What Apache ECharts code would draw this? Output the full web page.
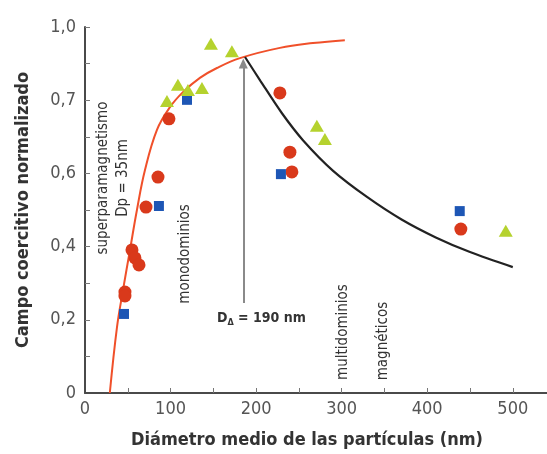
<!DOCTYPE html>
<html>
<head>
<meta charset="utf-8">
<script src="https://cdn.jsdelivr.net/npm/echarts@6/dist/echarts.min.js"></script>
<style>html,body{margin:0;padding:0;background:#fff;}#c{width:547px;height:454px;}</style>
</head>
<body>
<div id="c"></div>
<script>
// ---- data ----
var xTickLabels = [0, 100, 200, 300, 400, 500];
var xMinorTicks = [50, 100, 150, 200, 250, 300, 350, 400, 450, 500];
var yTickValues = [0, 0.2, 0.4, 0.6, 0.8, 1.0];
var yTickLabels = ['0', '0,2', '0,4', '0,6', '0,7', '1,0'];
var yMinorTicks = [0.1, 0.2, 0.3, 0.4, 0.5, 0.6, 0.7, 0.8, 0.9, 1.0];

var redCurve = [[29,0],[37.4,0.18],[44.4,0.281],[52.6,0.391],[60.7,0.5],[70.1,0.609],[84.1,0.719],[99.3,0.781],[114.5,0.822],[134.3,0.861],[154.2,0.888],[181.1,0.915],[227.8,0.943],[266.4,0.956],[303.7,0.964]];
var blackCurve = [[187,0.918],[205,0.853],[230,0.765],[255,0.69],[290,0.607],[330,0.535],[370,0.474],[410,0.425],[450,0.385],[500,0.344]];

var circles = [[98.1,0.749],[85.3,0.59],[71.3,0.508],[54.9,0.391],[58.4,0.369],[63.1,0.35],[46.7,0.276],[46.7,0.265],[227.8,0.82],[239.5,0.658],[241.8,0.604],[439.3,0.448]];
var squares = [[119.2,0.801],[86.4,0.511],[45.6,0.216],[229,0.598],[438,0.497]];
var triangles = [[147.2,0.954],[171.7,0.934],[95.8,0.798],[108.6,0.842],[120.3,0.828],[136.7,0.833],[271,0.73],[280.4,0.694],[491.8,0.443]];

var arrowX = 185;
var arrowY = [0.246, 0.9];

// ---- chart ----
var FONT = "'Liberation Sans Narrow', 'DejaVu Sans Condensed', 'Liberation Sans', sans-serif";
var chart = echarts.init(document.getElementById('c'), null, {renderer: 'canvas'});

var option = {
  backgroundColor: '#ffffff',
  animation: false,
  grid: {left: 85, right: 0, top: 27, bottom: 61, containLabel: false, outerBoundsMode: 'none'},
  xAxis: {
    type: 'value', min: 0, max: 540,
    axisLine: {show: true, lineStyle: {color: '#4a4a4a', width: 2}},
    axisTick: {show: true, inside: true, length: 5, customValues: xMinorTicks, lineStyle: {color: '#777', width: 1}},
    axisLabel: {customValues: xTickLabels, color: '#555', fontFamily: FONT, fontSize: 18, margin: 7},
    splitLine: {show: false},
    name: 'Diámetro medio de las partículas (nm)',
    nameLocation: 'middle', nameGap: 38,
    nameTextStyle: {color: '#333', fontFamily: FONT, fontWeight: 'bold', fontSize: 18, padding: [0, 18, 0, 0]}
  },
  yAxis: {
    type: 'value', min: 0, max: 1,
    axisLine: {show: true, lineStyle: {color: '#4a4a4a', width: 2}},
    axisTick: {show: true, inside: true, length: 5, customValues: yMinorTicks, lineStyle: {color: '#777', width: 1}},
    axisLabel: {
      customValues: yTickValues, color: '#555', fontFamily: FONT, fontSize: 18, margin: 9,
      formatter: function (v) {
        for (var i = 0; i < yTickValues.length; i++) {
          if (Math.abs(yTickValues[i] - v) < 1e-6) return yTickLabels[i];
        }
        return '';
      }
    },
    splitLine: {show: false},
    name: 'Campo coercitivo normalizado',
    nameLocation: 'middle', nameGap: 53,
    nameTextStyle: {color: '#333', fontFamily: FONT, fontWeight: 'bold', fontSize: 18}
  },
  series: [
    {
      type: 'line', data: redCurve, smooth: 0.4, showSymbol: false, z: 2,
      lineStyle: {color: '#f0502a', width: 2}
    },
    {
      type: 'line', data: blackCurve, smooth: 0.3, showSymbol: false, z: 2,
      lineStyle: {color: '#222', width: 2.2},
      markLine: {
        silent: true, symbol: ['none', 'triangle'], symbolSize: [9, 10],
        label: {show: false},
        lineStyle: {color: '#8a8a8a', width: 2, type: 'solid'},
        data: [[{coord: [arrowX, arrowY[0]]}, {coord: [arrowX, arrowY[1]]}]]
      }
    },
    {
      type: 'scatter', data: circles, symbol: 'circle', symbolSize: 13, z: 3,
      itemStyle: {color: '#d9391b', opacity: 1}
    },
    {
      type: 'scatter', data: squares, symbol: 'rect', symbolSize: 10, z: 3,
      itemStyle: {color: '#1d56b5', opacity: 1}
    },
    {
      type: 'scatter', data: triangles, symbol: 'triangle', symbolSize: [14, 12], z: 3,
      itemStyle: {color: '#b5d22e', opacity: 1}
    }
  ],
  graphic: [
    {type: 'text', x: 103, y: 178, rotation: Math.PI / 2,
     style: {text: 'superparamagnetismo', fill: '#333', font: '15px ' + FONT, align: 'center', verticalAlign: 'middle'}},
    {type: 'text', x: 123, y: 178, rotation: Math.PI / 2,
     style: {text: 'Dp = 35nm', fill: '#333', font: '15px ' + FONT, align: 'center', verticalAlign: 'middle'}},
    {type: 'text', x: 185, y: 254, rotation: Math.PI / 2,
     style: {text: 'monodominios', fill: '#333', font: '15px ' + FONT, align: 'center', verticalAlign: 'middle'}},
    {type: 'text', x: 343, y: 332, rotation: Math.PI / 2,
     style: {text: 'multidominios', fill: '#333', font: '15px ' + FONT, align: 'center', verticalAlign: 'middle'}},
    {type: 'text', x: 383, y: 341, rotation: Math.PI / 2,
     style: {text: 'magnéticos', fill: '#333', font: '15px ' + FONT, align: 'center', verticalAlign: 'middle'}},
    {type: 'text', x: 217, y: 318,
     style: {
       text: '{a|D}{s|Δ}{a| = 190 nm}', align: 'left', verticalAlign: 'middle',
       rich: {
         a: {fill: '#333', fontFamily: FONT, fontSize: 14, fontWeight: 'bold'},
         s: {fill: '#333', fontFamily: FONT, fontSize: 9, fontWeight: 'bold', padding: [10, 0, 0, 0]}
       }
     }}
  ]
};
chart.setOption(option);
</script>
</body>
</html>
